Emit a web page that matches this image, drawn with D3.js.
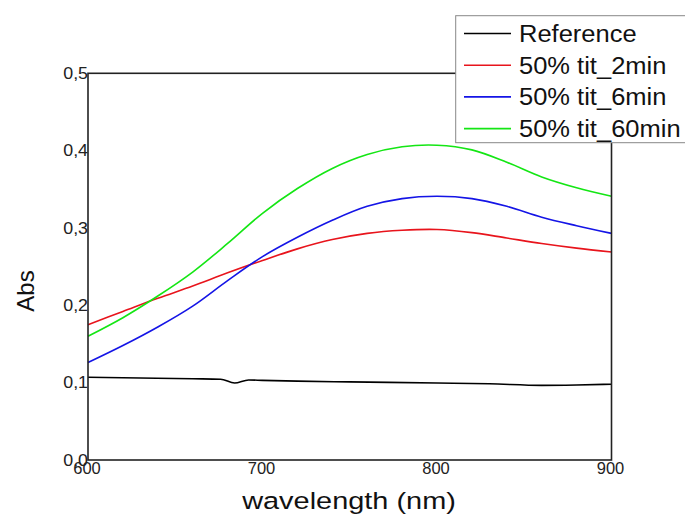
<!DOCTYPE html>
<html>
<head>
<meta charset="utf-8">
<script src="https://cdn.jsdelivr.net/npm/d3@7"></script>
<style>
  body { margin: 0; background: #fff; }
  text { font-family: "Liberation Sans", Arial, sans-serif; }
</style>
</head>
<body>
<script>
// wavelength grid for the sample curves
const wavelengths = [600, 620, 640, 660, 680, 700, 720, 740, 760, 780, 800, 820, 840, 860, 880, 900];
const tit2min  = [0.175, 0.192, 0.209, 0.225, 0.242, 0.258, 0.273, 0.285, 0.293, 0.297, 0.298, 0.294, 0.287, 0.280, 0.274, 0.269];
const tit6min  = [0.126, 0.148, 0.172, 0.199, 0.232, 0.263, 0.288, 0.310, 0.328, 0.338, 0.341, 0.338, 0.328, 0.314, 0.303, 0.293];
const tit60min = [0.160, 0.184, 0.212, 0.243, 0.280, 0.319, 0.351, 0.377, 0.395, 0.405, 0.407, 0.401, 0.385, 0.366, 0.352, 0.341];
// reference has its own wavelengths (small dip near 685 nm)
const refWavelengths = [600, 630, 660, 676, 684, 692, 700, 720, 750, 800, 830, 860, 880, 900];
const refValues      = [0.107, 0.106, 0.105, 0.1045, 0.0995, 0.1035, 0.103, 0.102, 0.101, 0.0995, 0.0985, 0.0965, 0.097, 0.098];

const xTicks = [600, 700, 800, 900];
const yTicks = [0, 0.1, 0.2, 0.3, 0.4, 0.5];
const seriesNames = ["Reference", "50% tit_2min", "50% tit_6min", "50% tit_60min"];
const seriesColors = ["#000000", "#e8141c", "#1414e6", "#14e614"];

const width = 685, height = 516;
const plot = { left: 88, right: 611.5, top: 73.3, bottom: 460 };

const svg = d3.select("body").append("svg")
    .attr("width", width)
    .attr("height", height);

const x = d3.scaleLinear().domain([600, 900]).range([plot.left, plot.right]);
const y = d3.scaleLinear().domain([0, 0.5]).range([plot.bottom, plot.top]);

const smooth = d3.line()
    .x(d => x(d[0]))
    .y(d => y(d[1]))
    .curve(d3.curveCatmullRom.alpha(0.5));
const mono = d3.line()
    .x(d => x(d[0]))
    .y(d => y(d[1]))
    .curve(d3.curveMonotoneX);

const series = [
    d3.zip(refWavelengths, refValues),
    d3.zip(wavelengths, tit2min),
    d3.zip(wavelengths, tit6min),
    d3.zip(wavelengths, tit60min)
];

// curves
series.forEach((s, i) => {
    svg.append("path")
        .datum(s)
        .attr("d", i == 0 ? mono : smooth)
        .attr("fill", "none")
        .attr("stroke", seriesColors[i])
        .attr("stroke-width", 1.6);
});

// frame
svg.append("rect")
    .attr("x", plot.left).attr("y", plot.top)
    .attr("width", plot.right - plot.left)
    .attr("height", plot.bottom - plot.top)
    .attr("fill", "none")
    .attr("stroke", "#222")
    .attr("stroke-width", 1.6);

// text in the picture is a bit wider than the font, stretch it
function stretch(sel, k) {
    sel.each(function() {
        let w = this.getComputedTextLength();
        d3.select(this).attr("textLength", w * k).attr("lengthAdjust", "spacingAndGlyphs");
    });
}

// tick labels (no tick marks, decimal comma)
const fmt = d => d3.format(".1f")(d).replace(".", ",");
svg.selectAll(".ytick").data(yTicks).enter().append("text")
    .attr("x", plot.left)
    .attr("y", d => y(d) + 5.8)
    .attr("text-anchor", "end")
    .attr("font-size", 16.5)
    .attr("fill", "#222")
    .text(fmt)
    .call(stretch, 1.08);

svg.selectAll(".xtick").data(xTicks).enter().append("text")
    .attr("x", d => x(d) - 1)
    .attr("y", 474)
    .attr("text-anchor", "middle")
    .attr("font-size", 16.5)
    .attr("fill", "#222")
    .text(d => d);

// axis titles
svg.append("text")
    .attr("x", 349).attr("y", 509)
    .attr("text-anchor", "middle")
    .attr("font-size", 24.5)
    .attr("fill", "#111")
    .text("wavelength (nm)")
    .call(stretch, 1.18);

svg.append("text")
    .attr("transform", "translate(34,291) rotate(-90)")
    .attr("text-anchor", "middle")
    .attr("font-size", 24)
    .attr("fill", "#111")
    .text("Abs");

// legend, sits over the top right corner of the frame
const legend = svg.append("g");
legend.append("rect")
    .attr("x", 455.7).attr("y", 15.7)
    .attr("width", 260).attr("height", 127)
    .attr("fill", "#fff")
    .attr("stroke", "#888")
    .attr("stroke-width", 1);
seriesNames.forEach((name, i) => {
    let ly = 33.5 + i * 31.7;
    legend.append("line")
        .attr("x1", 464).attr("x2", 511)
        .attr("y1", ly).attr("y2", ly)
        .attr("stroke", seriesColors[i])
        .attr("stroke-width", 1.6);
    legend.append("text")
        .attr("x", 519).attr("y", ly + 8.5)
        .attr("font-size", 23.5)
        .attr("fill", "#111")
        .text(name)
        .call(stretch, 1.085);
});
</script>
</body>
</html>
